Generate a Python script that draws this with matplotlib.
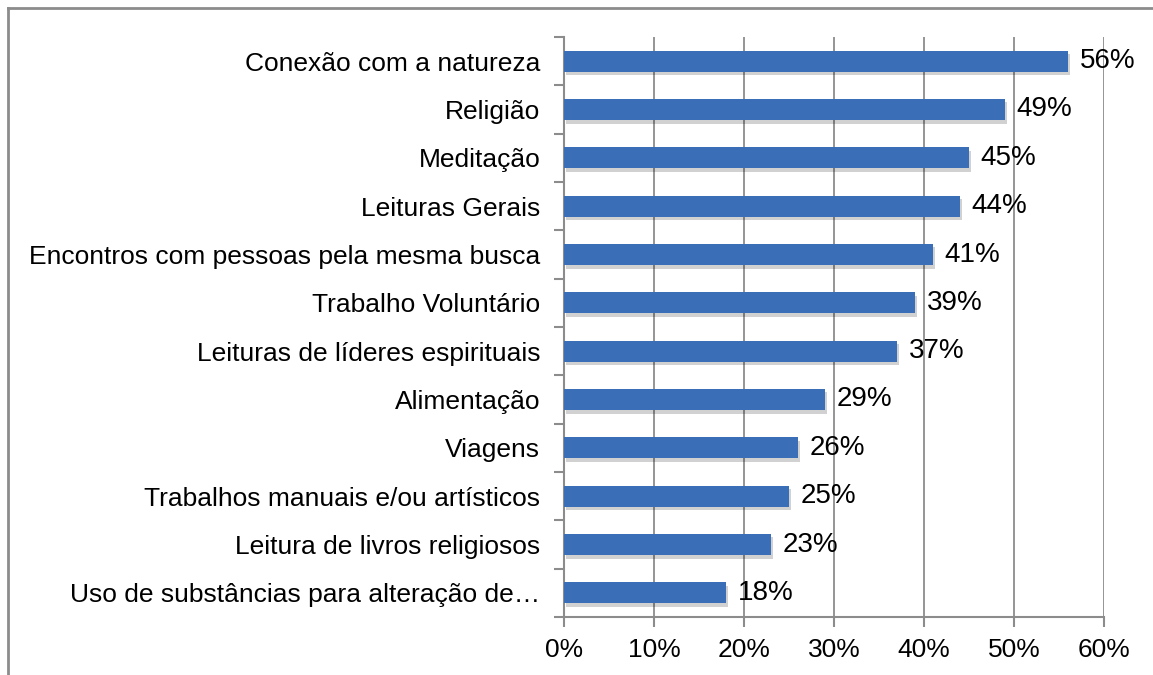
import matplotlib.pyplot as plt
from matplotlib.lines import Line2D
import matplotlib.patheffects as pe
from matplotlib.ticker import PercentFormatter

categories = [
    "Conexão com a natureza",
    "Religião",
    "Meditação",
    "Leituras Gerais",
    "Encontros com pessoas pela mesma busca",
    "Trabalho Voluntário",
    "Leituras de líderes espirituais",
    "Alimentação",
    "Viagens",
    "Trabalhos manuais e/ou artísticos",
    "Leitura de livros religiosos",
    "Uso de substâncias para alteração de…",
]
values = [56, 49, 45, 44, 41, 39, 37, 29, 26, 25, 23, 18]
xticks = [0, 10, 20, 30, 40, 50, 60]

plt.rcParams['font.family'] = ['Liberation Sans', 'DejaVu Sans']
GRAY = "#8c8c8c"

fig = plt.figure(figsize=(11.53, 6.75), dpi=100)
ax = fig.add_axes([564 / 1153, 1 - 617 / 675, 540 / 1153, 580 / 675])

pos = list(range(len(categories)))[::-1]
bars = ax.barh(pos, values, height=0.44, color="#3A6FB7", zorder=3)
for b in bars:
    b.set_path_effects([pe.SimplePatchShadow(offset=(1.5, -2.5), shadow_rgbFace="#000000", alpha=0.18),
                        pe.Normal()])
for p, v in zip(pos, values):
    ax.text(v + 1.3, p, f"{v}%", va="center", ha="left", fontsize=20, color="black")

ax.set_xlim(0, 60)
ax.set_ylim(-0.5, len(categories) - 0.5)
ax.set_xticks(xticks)
ax.xaxis.set_major_formatter(PercentFormatter(decimals=0))
ax.set_yticks(pos)
ax.set_yticklabels(categories)
ax.set_yticks([i - 0.5 for i in range(len(categories) + 1)], minor=True)
ax.tick_params(axis="y", which="major", length=0, pad=17, labelsize=19)
ax.tick_params(axis="y", which="minor", length=7, color=GRAY, width=1.5)
ax.tick_params(axis="x", length=7, color=GRAY, width=1.5, labelsize=19, pad=8)
ax.grid(axis="x", color=GRAY, linewidth=1.3, zorder=0)
for s in ["top", "right"]:
    ax.spines[s].set_visible(False)
for s in ["left", "bottom"]:
    ax.spines[s].set_color(GRAY)
    ax.spines[s].set_linewidth(1.5)

# outer chart frame (top and left edges visible)
fig.add_artist(Line2D([8 / 1153, 8 / 1153], [0, 1 - 8 / 675], color=GRAY, linewidth=2))
fig.add_artist(Line2D([8 / 1153, 1], [1 - 8 / 675, 1 - 8 / 675], color=GRAY, linewidth=2))

fig.savefig("out.png", dpi=100)
